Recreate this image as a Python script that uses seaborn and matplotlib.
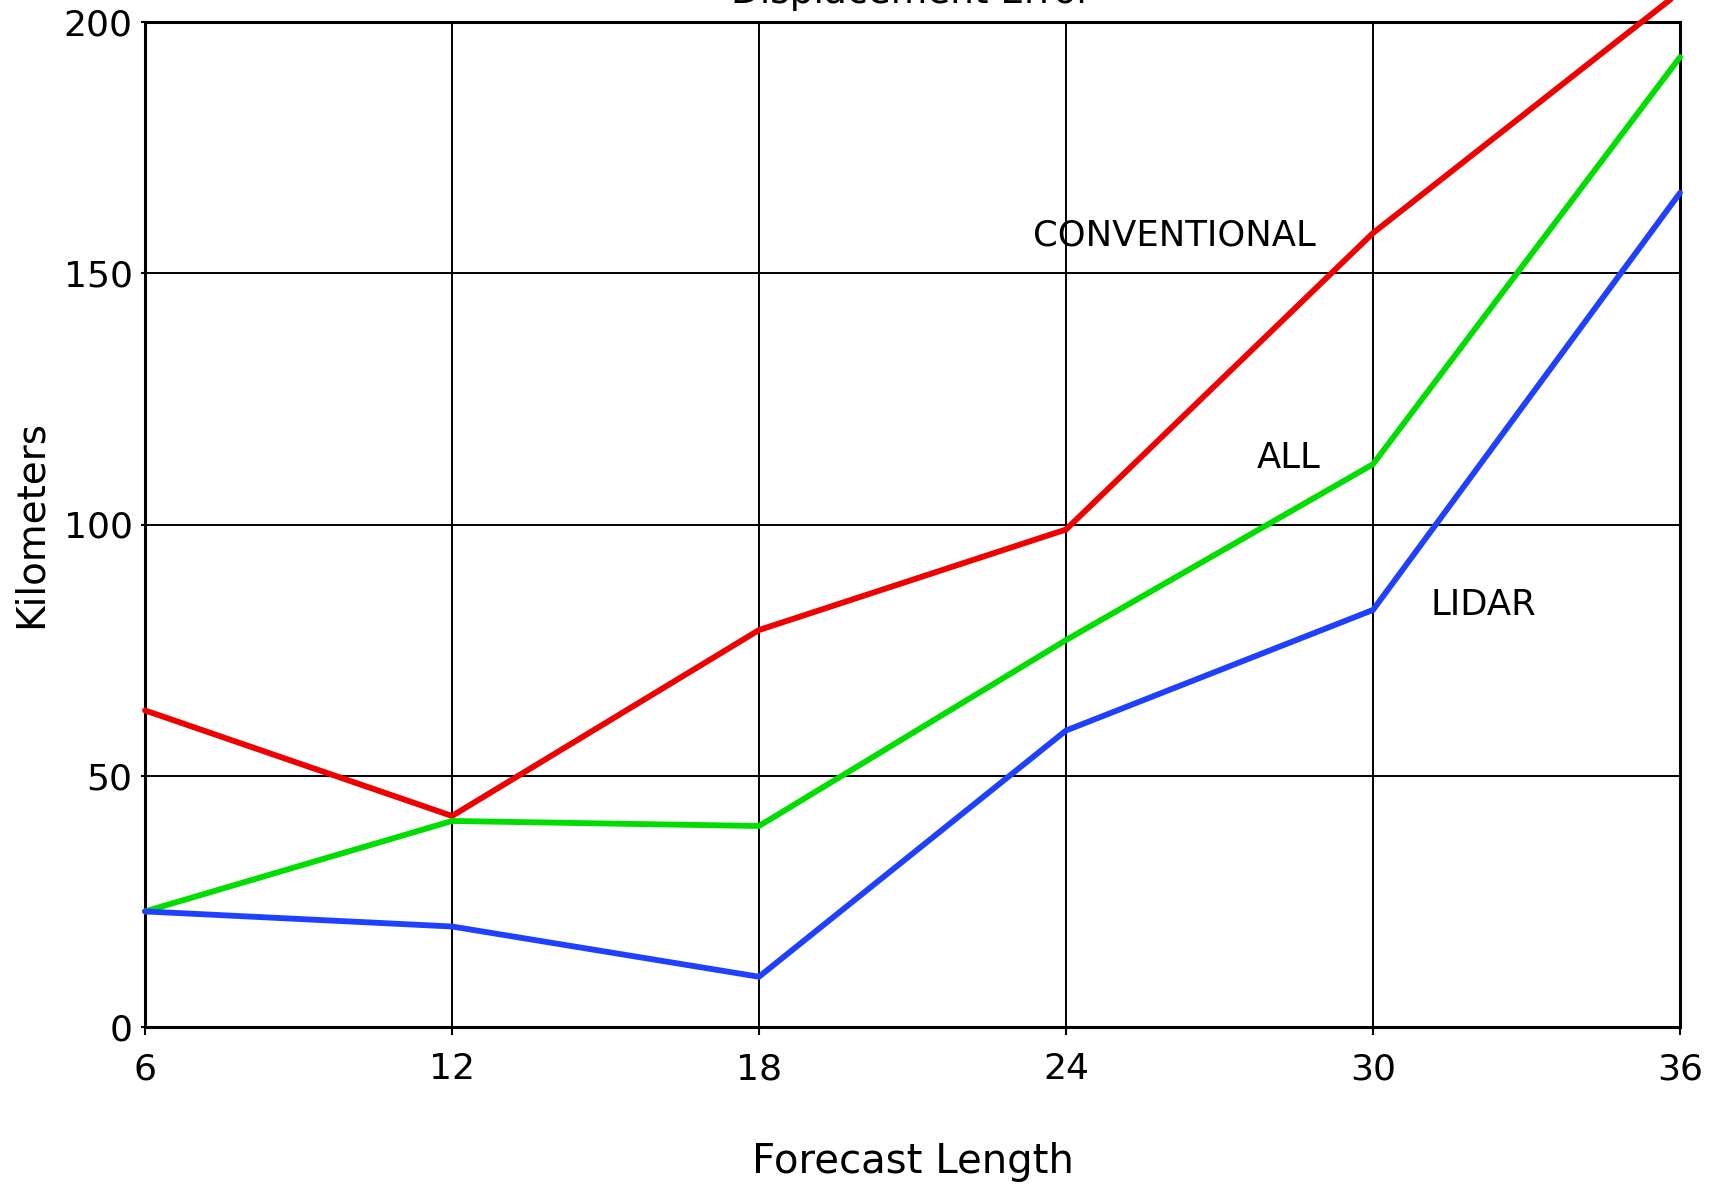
import numpy as np
import pandas as pd
import matplotlib
matplotlib.use("Agg")
import matplotlib.pyplot as plt
import seaborn as sns

# Forecast lengths (hours) and displacement error (km) per observing system
forecast_hours = [6, 12, 18, 24, 30, 36]
conventional = [63, 42, 79, 99, 158, 206]
all_obs = [23, 41, 40, 77, 112, 193]
lidar = [23, 20, 10, 59, 83, 166]

series_names = ["CONVENTIONAL", "ALL", "LIDAR"]
series_colors = ["#f00000", "#00dd00", "#2040ff"]

# label anchor points (data coordinates, left edge / vertical center)
label_x = [23.35, 27.72, 31.12]
label_y = [157.6, 113.2, 84.0]

x_ticks = [6, 12, 18, 24, 30, 36]
y_ticks = [0, 50, 100, 150, 200]

df = pd.DataFrame({
    "Forecast Length": forecast_hours * 3,
    "Kilometers": conventional + all_obs + lidar,
    "series": sum([[n] * len(forecast_hours) for n in series_names], []),
})

sns.set_theme(style="white")
plt.rcParams["font.family"] = ["DejaVu Sans"]

fig = plt.figure(figsize=(17.14, 11.86), dpi=100)
ax = fig.add_axes([145 / 1714, 1 - 1027 / 1186, (1680 - 145) / 1714, (1027 - 22) / 1186])

sns.lineplot(data=df, x="Forecast Length", y="Kilometers", hue="series",
             hue_order=series_names, palette=series_colors, linewidth=4.2,
             legend=False, ax=ax, zorder=3)
for ln in ax.lines:
    ln.set_clip_on(False)
    ln.set_solid_joinstyle("miter")

ax.set_xlim(6, 36)
ax.set_ylim(0, 200)
ax.set_xticks(x_ticks)
ax.set_yticks(y_ticks)
ax.grid(True, color="black", linewidth=1.4, zorder=1)
ax.set_axisbelow(True)
for s in ax.spines.values():
    s.set_color("black")
    s.set_linewidth(2.2)
    s.set_visible(True)

ax.tick_params(axis="x", direction="out", length=6, width=1.5, pad=12,
               labelsize=26, colors="black", bottom=True)
ax.tick_params(axis="y", direction="out", length=3, width=1.5, pad=6,
               labelsize=26, colors="black", left=True)

ax.set_xlabel("Forecast Length", fontsize=29, labelpad=40, color="black")
ax.set_ylabel("Kilometers", fontsize=28, labelpad=10, color="black")

for name, lx, ly in zip(series_names, label_x, label_y):
    ax.text(lx, ly, name, fontsize=25.5, ha="left", va="center", color="black", zorder=4)

fig.text(0.532, 1 - 3 / 1186, "Displacement Error", fontsize=27,
         ha="center", va="baseline", color="black")

fig.savefig("out.png", dpi=100)
